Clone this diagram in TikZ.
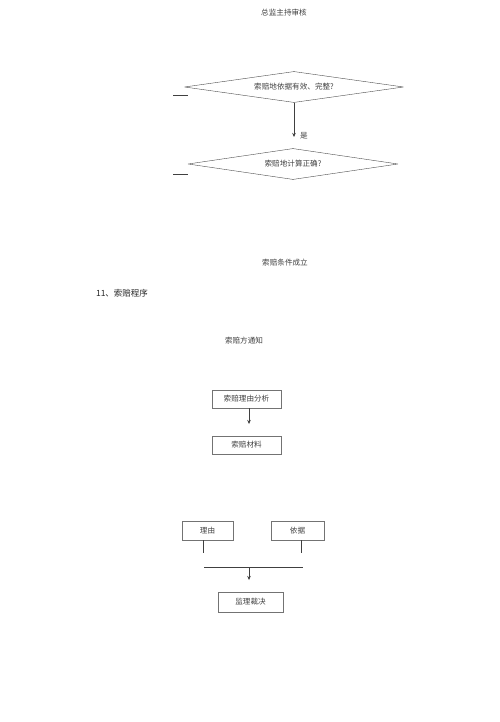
\documentclass[tikz,border=0pt]{standalone}
\usepackage{fontspec}
\newfontfamily\cjk{Noto Sans CJK SC}
\usetikzlibrary{arrows.meta,shapes.geometric}

\begin{document}
\begin{tikzpicture}[x=1pt,y=-1pt,every node/.style={font=\cjk\fontsize{7.6}{9}\selectfont,text=black!75,inner sep=1pt},
  box/.style={draw=black!55,rectangle,inner sep=0pt},
  choice/.style={draw=black!70,diamond,aspect=7,inner sep=0pt,line join=round},
  >={Stealth[length=4pt,width=3.5pt]},line/.style={draw=black!75,thin}]
\useasboundingbox (0,0) rectangle (500,722);
\node (head) at (284,13) {总监主持审核};
\node[choice,minimum width=219pt,minimum height=31pt] (d1) at (294,87) {索赔地依据有效、完整?};
\node[choice,minimum width=210pt,minimum height=31pt] (d2) at (293,164) {索赔地计算正确?};
\coordinate (l1) at (173,95);\coordinate (l2) at (173,174);
\draw[line] (l1)--++(15,0);\draw[line] (l2)--++(15,0);
\draw[line,->] (d1.south)--(294,137) node[right=5pt,pos=0.95] (yes) {是};
\node (ok) at (285,263) {索赔条件成立};
\node[font=\cjk\fontsize{8.5}{10}\selectfont,text=black!85] (title) at (122,293) {11、索赔程序};
\node (notice) at (244,341) {索赔方通知};
\node[box,minimum width=69pt,minimum height=18pt] (why) at (246.5,399) {索赔理由分析};
\node[box,minimum width=69pt,minimum height=18pt] (mat) at (246.5,445) {索赔材料};
\draw[line,->] (249,408)--(249,424);
\node[box,minimum width=51pt,minimum height=19pt] (reason) at (207.5,530.5) {理由};
\node[box,minimum width=53pt,minimum height=19pt] (basis) at (297.5,530.5) {依据};
\node[box,minimum width=65pt,minimum height=20pt] (judge) at (250.5,602) {监理裁决};
\coordinate (j) at (249,567);
\draw[line] (203,540)--(203,553);\draw[line] (301,540)--(301,553);
\draw[line] (204,567)--(303,567);
\draw[line,->] (j)--(249,580);
\end{tikzpicture}
\end{document}
